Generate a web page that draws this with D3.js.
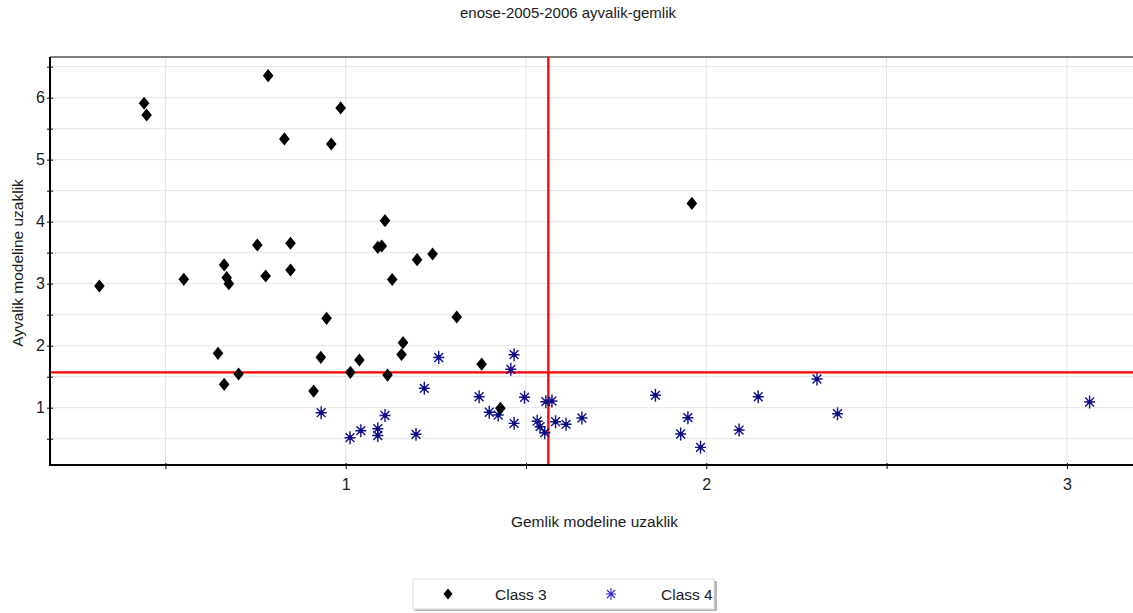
<!DOCTYPE html>
<html>
<head>
<meta charset="utf-8">
<script src="https://cdn.jsdelivr.net/npm/d3@7"></script>
<style>
    body { margin: 0; background: #fff; }
    #chart { width: 1133px; height: 613px; }
    text { font-family: Arial, "Liberation Sans", sans-serif; fill: #1a1a1a; }
</style>
</head>
<body>
<div id="chart"></div>
<script>

// chart data
let titleText = "enose-2005-2006 ayvalik-gemlik";
let xLabel = "Gemlik modeline uzaklik";
let yLabel = "Ayvalik modeline uzaklik";

let class3X = [0.317, 0.441, 0.448, 0.551, 0.646, 0.663, 0.670, 0.676, 0.663, 0.703,
               0.755, 0.778, 0.785, 0.830, 0.847, 0.847, 0.911, 0.931, 0.947, 0.960,
               0.986, 1.013, 1.038, 1.089, 1.100, 1.109, 1.116, 1.129, 1.159, 1.155,
               1.198, 1.241, 1.308, 1.377, 1.429, 1.960];
let class3Y = [2.963, 5.910, 5.721, 3.071, 1.877, 3.302, 3.097, 3.000, 1.377, 1.544,
               3.624, 3.124, 6.355, 5.334, 3.652, 3.221, 1.269, 1.813, 2.442, 5.253,
               5.834, 1.571, 1.769, 3.587, 3.608, 4.016, 1.527, 3.068, 2.048, 1.858,
               3.387, 3.479, 2.463, 1.702, 0.990, 4.294];

let class4X = [0.932, 1.012, 1.042, 1.089, 1.089, 1.109, 1.195, 1.218, 1.258, 1.370,
               1.398, 1.423, 1.458, 1.467, 1.467, 1.496, 1.531, 1.539, 1.552, 1.555,
               1.572, 1.582, 1.611, 1.655, 1.859, 1.949, 1.929, 1.984, 2.091, 2.144,
               2.307, 2.364, 3.063];
let class4Y = [0.919, 0.516, 0.629, 0.661, 0.552, 0.874, 0.571, 1.313, 1.810, 1.177,
               0.927, 0.882, 1.619, 1.855, 0.748, 1.168, 0.782, 0.694, 0.597, 1.097,
               1.108, 0.774, 0.732, 0.834, 1.200, 0.839, 0.576, 0.361, 0.640, 1.177,
               1.463, 0.903, 1.092];

// threshold lines
let thresholdX = 1.562;
let thresholdY = 1.57;

let xGridValues = [0.5, 1, 1.5, 2, 2.5, 3];
let xTickLabels = [1, 2, 3];
let yGridValues = [0.5, 1, 1.5, 2, 2.5, 3, 3.5, 4, 4.5, 5, 5.5, 6, 6.5];
let yTickLabels = [1, 2, 3, 4, 5, 6];
let legendNames = ["Class 3", "Class 4"];

class ScatterVis {

    constructor(parentElement){
        this.parentElement = parentElement;
        this.initVis();
    }

    initVis(){
        let vis = this;

        vis.svg = d3.select("#" + vis.parentElement).append("svg")
            .attr("width", 1133)
            .attr("height", 613);

        // plot box runs past the right edge of the window
        vis.left = 50; vis.right = 1139; vis.top = 57; vis.bottom = 465;

        vis.x = d3.scaleLinear().domain([0.18, 3.2]).range([vis.left, vis.right]);
        vis.y = d3.scaleLinear().domain([0.076, 6.656]).range([vis.bottom, vis.top]);

        vis.diamond = "M0,-6.6L5.3,0L0,6.6L-5.3,0Z";
        vis.star = "M0,-6.5V6.5M-5.5,0H5.5M-4.4,-4.4L4.4,4.4M-4.4,4.4L4.4,-4.4";

        vis.drawFrame();
        vis.drawPoints();
        vis.drawLegend();
    }

    drawFrame(){
        let vis = this;

        // title
        vis.svg.append("text")
            .attr("x", 568).attr("y", 18)
            .attr("text-anchor", "middle")
            .attr("font-size", "15px")
            .text(titleText);

        // grid
        let grid = vis.svg.append("g").attr("class", "grid");
        grid.selectAll(".gx").data(xGridValues).enter().append("line")
            .attr("x1", d => vis.x(d)).attr("x2", d => vis.x(d))
            .attr("y1", vis.top).attr("y2", vis.bottom)
            .attr("stroke", "#e4e4e4").attr("stroke-width", 1);
        grid.selectAll(".gy").data(yGridValues).enter().append("line")
            .attr("y1", d => vis.y(d)).attr("y2", d => vis.y(d))
            .attr("x1", vis.left).attr("x2", vis.right)
            .attr("stroke", "#e4e4e4").attr("stroke-width", 1);

        // top border
        vis.svg.append("line")
            .attr("x1", vis.left).attr("x2", vis.right)
            .attr("y1", vis.top).attr("y2", vis.top)
            .attr("stroke", "#555").attr("stroke-width", 1.3);

        // red threshold lines
        vis.svg.append("line")
            .attr("x1", vis.x(thresholdX)).attr("x2", vis.x(thresholdX))
            .attr("y1", vis.top).attr("y2", vis.bottom)
            .attr("stroke", "#ff0000").attr("stroke-width", 2.3);
        vis.svg.append("line")
            .attr("x1", vis.left).attr("x2", vis.right)
            .attr("y1", vis.y(thresholdY)).attr("y2", vis.y(thresholdY))
            .attr("stroke", "#ff0000").attr("stroke-width", 2.3);

        // x axis
        let xAxis = d3.axisBottom(vis.x)
            .tickValues(xGridValues)
            .tickSize(6)
            .tickFormat(d => xTickLabels.includes(d) ? d : "");
        let gx = vis.svg.append("g")
            .attr("transform", `translate(0, ${vis.bottom - 2})`)
            .call(xAxis);
        gx.select(".domain").remove();
        gx.selectAll("text").attr("font-size", "16px").attr("dy", "1.1em")
            .attr("font-family", "Arial, 'Liberation Sans', sans-serif").attr("fill", "#1a1a1a");
        gx.selectAll("line").attr("stroke", "#000");

        // y axis
        let yAxis = d3.axisLeft(vis.y)
            .tickValues(yGridValues)
            .tickSize(6)
            .tickPadding(2)
            .tickFormat(d => yTickLabels.includes(d) ? d : "");
        let gy = vis.svg.append("g")
            .attr("transform", `translate(${vis.left + 3}, 0)`)
            .call(yAxis);
        gy.select(".domain").remove();
        gy.selectAll("text").attr("font-size", "16px")
            .attr("font-family", "Arial, 'Liberation Sans', sans-serif").attr("fill", "#1a1a1a");
        gy.selectAll("line").attr("stroke", "#000");

        // axis lines
        vis.svg.append("line")
            .attr("x1", vis.left).attr("x2", vis.left)
            .attr("y1", vis.top).attr("y2", vis.bottom + 1)
            .attr("stroke", "#000").attr("stroke-width", 2);
        vis.svg.append("line")
            .attr("x1", vis.left - 1).attr("x2", vis.right)
            .attr("y1", vis.bottom).attr("y2", vis.bottom)
            .attr("stroke", "#000").attr("stroke-width", 2);

        // axis titles
        vis.svg.append("text")
            .attr("x", (vis.left + vis.right) / 2).attr("y", 527)
            .attr("text-anchor", "middle")
            .attr("font-size", "15.5px")
            .text(xLabel);
        vis.svg.append("text")
            .attr("transform", `translate(23, ${(vis.top + vis.bottom) / 2 + 2}) rotate(-90)`)
            .attr("text-anchor", "middle")
            .attr("font-size", "15.5px")
            .text(yLabel);
    }

    drawPoints(){
        let vis = this;

        let class3 = class3X.map((d, i) => ({x: d, y: class3Y[i]}));
        let class4 = class4X.map((d, i) => ({x: d, y: class4Y[i]}));

        // stars first, diamonds on top
        let stars = vis.svg.append("g").selectAll(".star")
            .data(class4).enter().append("g")
            .attr("class", "star")
            .attr("transform", d => `translate(${vis.x(d.x)}, ${vis.y(d.y)})`);
        stars.append("path")
            .attr("d", vis.star)
            .attr("stroke", "#10108f").attr("stroke-width", 1.4).attr("fill", "none");
        stars.append("rect")
            .attr("x", -2).attr("y", -2).attr("width", 4).attr("height", 4)
            .attr("fill", "#0a0a80");

        vis.svg.append("g").selectAll(".diamond")
            .data(class3).enter().append("path")
            .attr("class", "diamond")
            .attr("d", vis.diamond)
            .attr("transform", d => `translate(${vis.x(d.x)}, ${vis.y(d.y)})`)
            .attr("fill", "#000");
    }

    drawLegend(){
        let vis = this;

        let lg = vis.svg.append("g");
        // shadow + box
        lg.append("rect")
            .attr("x", 415).attr("y", 581).attr("width", 302).attr("height", 30)
            .attr("fill", "#b8b8b8");
        lg.append("rect")
            .attr("x", 413).attr("y", 579).attr("width", 301).attr("height", 30)
            .attr("fill", "#fff").attr("stroke", "#dcdcdc").attr("stroke-width", 1);

        lg.append("path")
            .attr("d", "M0,-5.5L4.5,0L0,5.5L-4.5,0Z")
            .attr("transform", "translate(448, 594)")
            .attr("fill", "#000");
        lg.append("text")
            .attr("x", 495).attr("y", 600)
            .attr("font-size", "15.5px")
            .text(legendNames[0]);

        lg.append("path")
            .attr("d", "M0,-6V6M-5,0H5M-4,-4L4,4M-4,4L4,-4")
            .attr("transform", "translate(611, 594)")
            .attr("stroke", "#2a2ad0").attr("stroke-width", 1.1).attr("fill", "none");
        lg.append("text")
            .attr("x", 661).attr("y", 600)
            .attr("font-size", "15.5px")
            .text(legendNames[1]);
    }
}

new ScatterVis("chart");

</script>
</body>
</html>
